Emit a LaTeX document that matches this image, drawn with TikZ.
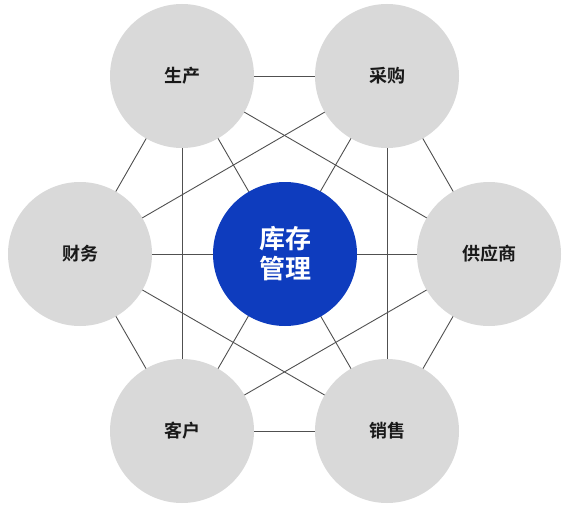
\documentclass[tikz,border=0pt]{standalone}
\usepackage{fontspec}
\usetikzlibrary{backgrounds}
\newfontfamily\cjk{Noto Sans CJK SC Bold}
\definecolor{circgray}{RGB}{217,217,217}
\definecolor{hubblue}{RGB}{14,60,190}
\definecolor{linegray}{RGB}{80,80,80}
\begin{document}
\begin{tikzpicture}[x=1pt,y=-1pt,
  outer/.style={circle,fill=circgray,minimum size=144pt,inner sep=0pt,font=\cjk\fontsize{18pt}{22pt}\selectfont,text=black!90},
  hub/.style={circle,fill=hubblue,minimum size=144pt,inner sep=0pt,align=center,font=\cjk\fontsize{26pt}{30pt}\selectfont,text=white},
  link/.style={draw=linegray,line width=0.9pt}]
\useasboundingbox (0,0) rectangle (570,508);
\node[outer] (sc) at (182,76) {生产};
\node[outer] (cg) at (387,76) {采购};
\node[outer] (gys) at (489,254) {供应商};
\node[outer] (xs) at (387,431) {销售};
\node[outer] (kh) at (182,431) {客户};
\node[outer] (cw) at (80,254) {财务};
\node[hub] (kc) at (285,254) {库存\\管理};
\begin{pgfonlayer}{background}
\foreach \a/\b in {sc/cg,sc/gys,sc/xs,sc/kh,sc/cw,cg/gys,cg/xs,cg/kh,cg/cw,gys/xs,gys/kh,gys/cw,xs/kh,xs/cw,kh/cw}
  \draw[link] (\a.center) -- (\b.center);
\end{pgfonlayer}
\end{tikzpicture}
\end{document}
